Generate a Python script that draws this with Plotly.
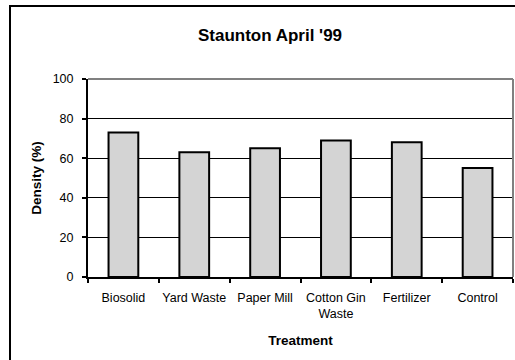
import plotly.graph_objects as go

# Treatment density data
treatments = ["Biosolid", "Yard Waste", "Paper Mill", "Cotton Gin<br>Waste", "Fertilizer", "Control"]
density = [73, 63, 65, 69, 68, 55]
y_ticks = [0, 20, 40, 60, 80, 100]

W, H = 515, 360
L, R, T, B = 88, 2, 79, 83
pw = W - L - R
ph = H - T - B


def px_x(x):
    return (x - L) / pw


def px_y(y):
    # y measured in pixels from the top of the figure
    return (H - B - y) / ph


font = "Liberation Sans, Arial, sans-serif"

fig = go.Figure(
    go.Bar(
        x=treatments,
        y=density,
        marker=dict(color="#d4d4d4", line=dict(color="black", width=2)),
        width=0.42,
    )
)

fig.update_layout(
    width=W,
    height=H,
    margin=dict(l=L, r=R, t=T, b=B, autoexpand=False),
    paper_bgcolor="white",
    plot_bgcolor="white",
    showlegend=False,
    font=dict(family=font, size=12.5, color="black"),
    title=dict(
        text="<b>Staunton April '99</b>",
        x=270 / W,
        xanchor="center",
        y=1 - 35 / H,
        yanchor="middle",
        font=dict(size=17, family=font, color="black"),
    ),
    xaxis=dict(
        title=dict(text="<b>Treatment</b>", font=dict(size=13.5), standoff=15),
        automargin=False,
        showline=True,
        linecolor="black",
        linewidth=2,
        ticks="outside",
        tickson="boundaries",
        ticklen=4,
        tickwidth=2,
        tickcolor="black",
        tickangle=0,
        ticklabelstandoff=8,
        showgrid=False,
        tickfont=dict(size=12.5),
    ),
    yaxis=dict(
        title=dict(text="<b>Density (%)</b>", font=dict(size=13.5), standoff=8),
        automargin=False,
        range=[0, 100],
        tickvals=y_ticks,
        showline=True,
        linecolor="black",
        linewidth=2,
        ticks="outside",
        ticklen=4,
        tickwidth=2,
        tickcolor="black",
        ticklabelstandoff=6,
        showgrid=True,
        gridcolor="black",
        gridwidth=1,
        zeroline=False,
        tickfont=dict(size=12.5),
    ),
    shapes=[
        # gray border on top and right of plot area
        dict(type="line", xref="paper", yref="paper", x0=0, x1=1, y0=1, y1=1,
             line=dict(color="#808080", width=2)),
        dict(type="line", xref="paper", yref="paper", x0=1, x1=1, y0=0, y1=1,
             line=dict(color="#808080", width=2)),
        # outer chart frame
        dict(type="rect", xref="paper", yref="paper",
             x0=px_x(10), x1=px_x(530), y0=px_y(H + 10), y1=px_y(6),
             line=dict(color="black", width=2), fillcolor="rgba(0,0,0,0)"),
    ],
)

fig.write_html("out.html")
